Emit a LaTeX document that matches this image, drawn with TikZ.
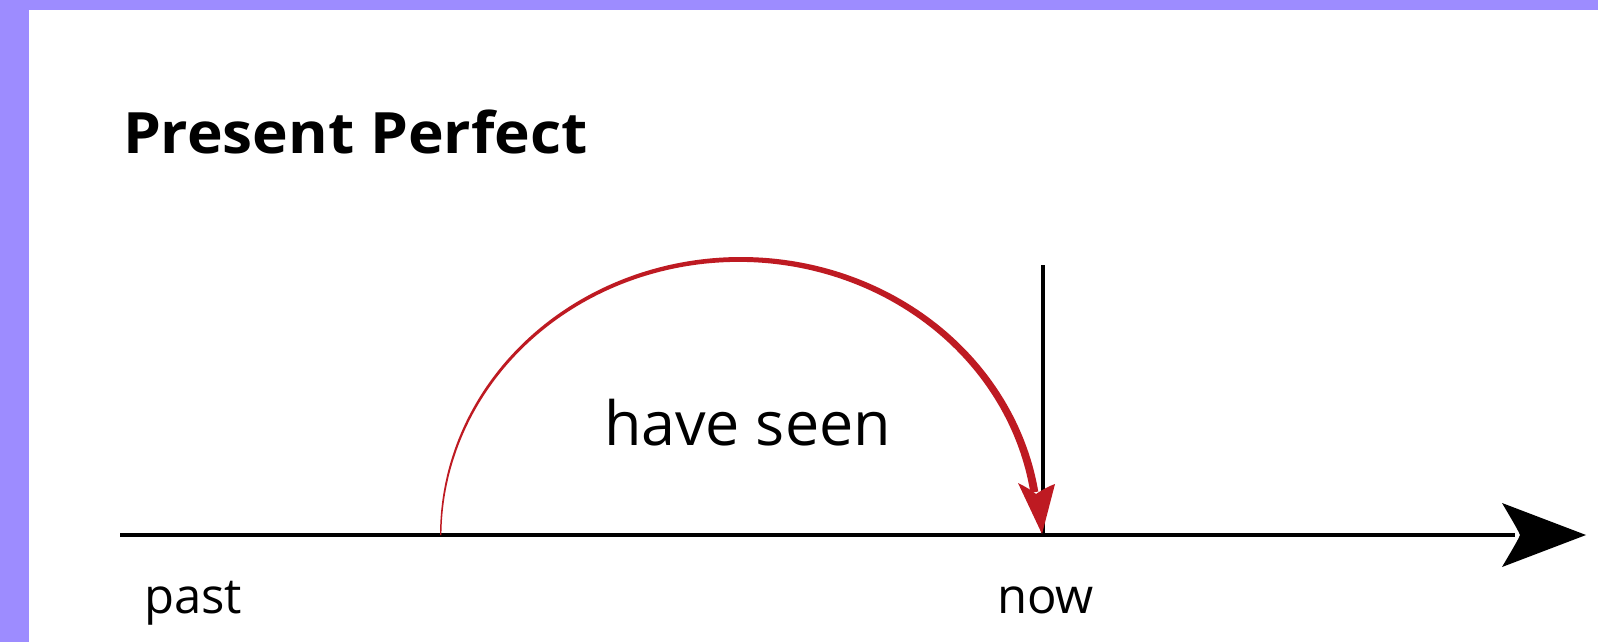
\documentclass[tikz,border=0pt]{standalone}
\usepackage{fontspec}
\setmainfont{Open Sans}
\definecolor{frame}{RGB}{157,140,255}
\definecolor{arcred}{RGB}{190,26,34}
\tikzset{
  lbl/.style={anchor=base west, inner sep=0pt, outer sep=0pt},
  axis/.style={line width=4.8pt, black},
  nowline/.style={line width=4pt, black},
}
\begin{document}
\begin{tikzpicture}[x=1pt,y=-1pt]
\useasboundingbox (0,0) rectangle (1598,642);
\fill[white] (0,0) rectangle (1598,642);
\fill[frame] (0,0) rectangle (29,642);
\fill[frame] (0,0) rectangle (1598,10);
% title
\node[lbl] (title) at (123,153) {\scalebox{1.06}[1]{\bfseries\fontsize{57}{60}\selectfont Present Perfect}};
% axis
\coordinate (start) at (120,535);
\coordinate (tip) at (1586,535);
\coordinate (nowtop) at (1043,265);
\coordinate (nowpt) at (1043,535);
\draw[axis] (start) -- (1515,535);
\fill[black] (tip) -- (1502,503) .. controls (1512,520) and (1518,530) .. (1520,535)
   .. controls (1518,540) and (1512,550) .. (1502,567) -- cycle;
\draw[nowline] (nowtop) -- (nowpt);
% red arc (tapered)
\fill[arcred] plot[domain=180:9,samples=100,smooth] ({741+301*cos(\x)},{535-278*sin(\x)})
  -- plot[domain=9:180,samples=100,smooth] ({741+(301-(1.4+6.6*(180-\x)/171))*cos(\x)},{535-(278-(1.4+6.6*(180-\x)/171))*sin(\x)}) -- cycle;
\fill[arcred] (1042,534) -- (1018,483) .. controls (1026,487) and (1031,490) .. (1036,494)
  .. controls (1042,490) and (1047,487) .. (1055,484) -- cycle;
% labels
\node[lbl] (have) at (604,445) {\fontsize{61}{64}\selectfont have seen};
\node[lbl] (past) at (144,613) {\fontsize{49}{52}\selectfont past};
\node[lbl] (now) at (997,613) {\fontsize{49}{52}\selectfont now};
\end{tikzpicture}
\end{document}
